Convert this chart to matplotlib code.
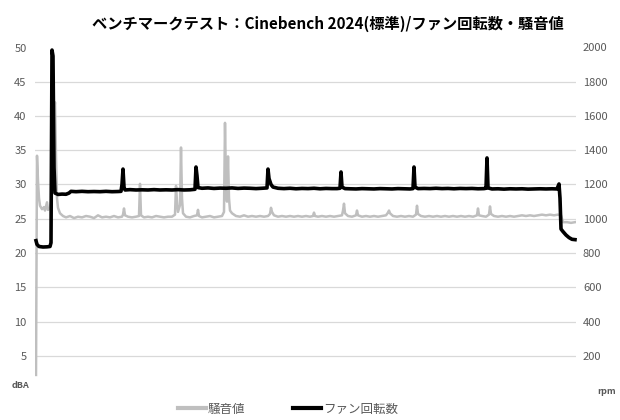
import matplotlib
matplotlib.use("Agg")
import matplotlib.pyplot as plt
from matplotlib.lines import Line2D

plt.rcParams['font.family'] = ['Noto Sans CJK JP', 'DejaVu Sans']

# 騒音値 (dBA)
noise_t = [0, 1, 2, 3, 4, 6, 8, 9, 11, 12, 14, 15, 16, 17, 18, 19, 20, 21, 22, 24,
           27, 30, 34, 38, 42, 46, 50, 54, 58, 62, 66, 70, 74, 78, 82, 86, 87, 88, 89, 92,
           96, 100, 103, 104, 105, 108, 112, 116, 120, 124, 128, 132, 136, 139, 140, 141, 142, 144, 145, 146,
           147, 150, 154, 158, 161, 162, 163, 166, 170, 174, 178, 182, 186, 188, 189, 190, 191, 192, 193, 194,
           196, 200, 204, 208, 212, 216, 220, 224, 228, 232, 234, 235, 236, 238, 242, 246, 250, 254, 258, 262,
           266, 270, 274, 277, 278, 279, 282, 286, 290, 294, 298, 302, 306, 307, 308, 309, 312, 316, 320, 321,
           322, 326, 330, 334, 338, 342, 346, 350, 352, 353, 354, 357, 361, 365, 369, 373, 377, 380, 381, 382,
           385, 389, 393, 397, 401, 405, 409, 413, 417, 421, 425, 429, 433, 437, 441, 442, 443, 446, 450, 453,
           454, 455, 458, 462, 466, 470, 474, 478, 482, 486, 490, 494, 498, 502, 506, 510, 514, 518, 522, 525,
           526, 527, 531, 535, 539]
noise_db = [2.2, 34.2, 30.5, 28.0, 26.9, 26.4, 26.7, 26.2, 27.4, 26.3, 26.5, 27.6, 38.0, 45.5, 40.5, 42.0, 34.0, 28.0, 26.6, 25.8,
            25.4, 25.2, 25.4, 25.1, 25.3, 25.2, 25.4, 25.3, 25.1, 25.5, 25.2, 25.3, 25.2, 25.4, 25.2, 25.3, 25.6, 26.5, 25.5, 25.3,
            25.2, 25.3, 25.4, 30.1, 25.5, 25.2, 25.3, 25.2, 25.4, 25.3, 25.2, 25.3, 25.3, 25.6, 29.8, 27.5, 26.0, 27.0, 35.4, 28.0,
            25.8, 25.3, 25.2, 25.4, 25.5, 26.3, 25.4, 25.2, 25.3, 25.4, 25.2, 25.3, 25.4, 26.0, 39.0, 30.0, 27.5, 34.1, 28.0, 26.2,
            25.8, 25.4, 25.3, 25.5, 25.3, 25.4, 25.3, 25.4, 25.3, 25.4, 25.7, 26.6, 26.0, 25.5, 25.3, 25.4, 25.3, 25.4, 25.3, 25.4,
            25.3, 25.4, 25.3, 25.4, 25.9, 25.4, 25.3, 25.4, 25.3, 25.4, 25.3, 25.4, 25.5, 26.2, 27.2, 25.8, 25.4, 25.3, 25.5, 26.2,
            25.5, 25.3, 25.4, 25.3, 25.4, 25.3, 25.4, 25.5, 25.9, 26.2, 25.8, 25.4, 25.3, 25.4, 25.3, 25.4, 25.3, 25.6, 26.9, 25.7,
            25.4, 25.3, 25.4, 25.3, 25.4, 25.3, 25.4, 25.3, 25.4, 25.3, 25.4, 25.3, 25.4, 25.3, 25.5, 26.5, 25.5, 25.4, 25.3, 25.6,
            26.8, 25.7, 25.4, 25.3, 25.4, 25.3, 25.4, 25.3, 25.4, 25.5, 25.4, 25.5, 25.4, 25.5, 25.6, 25.5, 25.6, 25.5, 25.6, 25.5,
            25.0, 24.5, 24.5, 24.4, 24.5]

# ファン回転数 (rpm)
fan_t = [0, 1, 3, 7, 11, 14, 15, 16, 17, 18, 19, 22, 26, 30, 33, 35, 40, 46, 52, 58,
         64, 70, 76, 82, 85, 86, 87, 88, 89, 94, 100, 106, 112, 118, 124, 130, 136, 142, 148, 154,
         159, 160, 161, 162, 166, 172, 178, 184, 190, 196, 202, 208, 214, 220, 226, 231, 232, 233, 235, 237,
         242, 248, 254, 260, 266, 272, 278, 284, 290, 296, 301, 304, 305, 306, 309, 314, 320, 326, 332, 338,
         344, 350, 356, 362, 368, 374, 377, 378, 379, 382, 388, 394, 400, 406, 412, 418, 424, 430, 436, 442,
         448, 450, 451, 452, 456, 462, 468, 474, 480, 486, 492, 498, 504, 510, 516, 521, 523, 524, 525, 527,
         530, 533, 536, 539]
fan_rpm = [872, 850, 838, 835, 836, 838, 860, 1985, 1950, 1300, 1150, 1142, 1144, 1143, 1150, 1160, 1158, 1160, 1158, 1159,
           1158, 1160, 1158, 1159, 1160, 1200, 1290, 1185, 1168, 1170, 1168, 1169, 1168, 1170, 1168, 1169, 1168, 1170, 1168, 1169,
           1172, 1302, 1250, 1182, 1178, 1180, 1177, 1179, 1178, 1180, 1177, 1179, 1178, 1176, 1178, 1180, 1290, 1235, 1200, 1185,
           1178, 1176, 1178, 1175, 1177, 1176, 1178, 1175, 1177, 1176, 1176, 1178, 1273, 1185, 1176, 1175, 1174, 1176, 1175, 1174,
           1176, 1175, 1174, 1176, 1175, 1174, 1176, 1302, 1185, 1176, 1177, 1176, 1178, 1176, 1177, 1175, 1177, 1176, 1177, 1175,
           1176, 1178, 1355, 1180, 1174, 1175, 1173, 1175, 1174, 1175, 1173, 1174, 1175, 1174, 1175, 1174, 1203, 1120, 940, 925,
           905, 890, 880, 878]

title = "ベンチマークテスト：Cinebench 2024(標準)/ファン回転数・騒音値"
db_ticks = [5, 10, 15, 20, 25, 30, 35, 40, 45, 50]
rpm_ticks = [200, 400, 600, 800, 1000, 1200, 1400, 1600, 1800, 2000]

gray = '#BFBFBF'
label_c = '#595959'

fig = plt.figure(figsize=(6.2, 4.2), dpi=100)
ax = fig.add_axes([35/620, 30/420, 541/620, 342.5/420])
ax2 = ax.twinx()

# 目盛線
for v in db_ticks[:-1]:
    ax.axhline(v, color='#D9D9D9', lw=0.9, zorder=0)

ax.plot(noise_t, noise_db, color=gray, lw=1.8, solid_joinstyle='round')
ax2.plot(fan_t, fan_rpm, color='black', lw=2.6, solid_joinstyle='round', clip_on=False)

ax.set_xlim(-1, 540)
ax.set_ylim(0, 50)
ax2.set_ylim(0, 2000)
ax.set_xticks([])
ax.set_yticks(db_ticks)
ax2.set_yticks(rpm_ticks)
ax.tick_params(axis='y', length=0, pad=6, labelsize=8, labelcolor=label_c)
ax2.tick_params(axis='y', length=0, pad=5, labelsize=8, labelcolor=label_c)
for a in (ax, ax2):
    for s in a.spines.values():
        s.set_visible(False)

fig.text(328/620, 1 - 24/420, title, ha='center', va='center', fontsize=11,
         fontweight='bold', color='black')
fig.text(12/620, 1 - 385/420, 'dBA', ha='left', va='center', fontsize=6.5,
         color=label_c, fontweight='bold')
fig.text(597/620, 1 - 391/420, 'rpm', ha='left', va='center', fontsize=6.5,
         color=label_c, fontweight='bold')

handles = [Line2D([], [], color=gray, lw=3), Line2D([], [], color='black', lw=3)]
fig.legend(handles, ['騒音値', 'ファン回転数'], loc='center', bbox_to_anchor=(288/620, 1 - 409/420),
           ncol=2, frameon=False, fontsize=9, labelcolor=label_c, handlelength=2.2,
           handletextpad=0.2, columnspacing=3.8, borderpad=0)

fig.savefig('out.png', dpi=100)
